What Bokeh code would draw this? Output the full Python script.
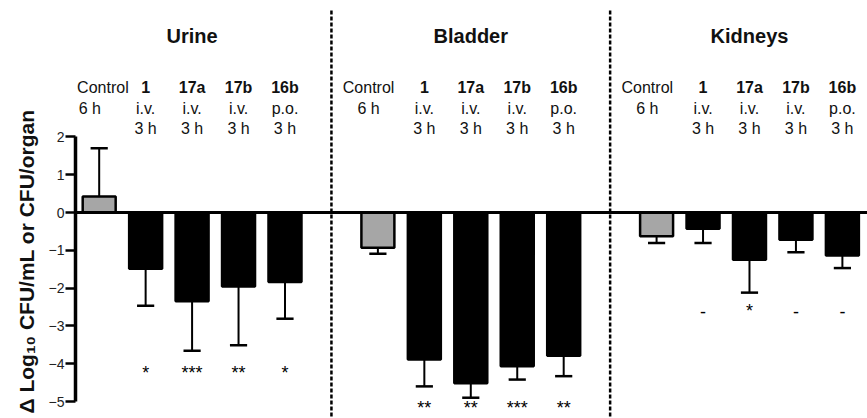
import math
from bokeh.plotting import figure
from bokeh.models import Range1d, FixedTicker, Span, ColumnDataSource, Title
from bokeh.core.properties import value
from bokeh.embed import file_html
from bokeh.resources import INLINE

# ---------------- data ----------------
groups = ["Urine", "Bladder", "Kidneys"]
treatments = ["Control", "1", "17a", "17b", "16b"]
routes = ["6 h", "i.v.", "i.v.", "i.v.", "p.o."]
times = ["", "3 h", "3 h", "3 h", "3 h"]

urine_mean = [0.42, -1.49, -2.35, -1.96, -1.84]
urine_err = [1.28, 0.98, 1.31, 1.55, 0.97]
urine_sig = ["", "*", "***", "**", "*"]

bladder_mean = [-0.93, -3.89, -4.52, -4.07, -3.79]
bladder_err = [0.16, 0.71, 0.38, 0.35, 0.54]
bladder_sig = ["", "**", "**", "***", "**"]

kidneys_mean = [-0.63, -0.43, -1.25, -0.72, -1.14]
kidneys_err = [0.18, 0.38, 0.87, 0.33, 0.33]
kidneys_sig = ["", "-", "*", "-", "-"]

y_ticks = [-5, -4, -3, -2, -1, 0, 1, 2]
y_label = "Δ Log₁₀ CFU/mL or CFU/organ"

# ---------------- layout constants ----------------
FONT = "Liberation Sans"
GROUP_STEP = 6
BAR_W = 0.71
CAP_HALF = 0.185
sig_levels = [-4.24, -5.16, -2.61]
title_y = 4.68
row_y = [3.315, 2.76, 2.23]

means_all = [urine_mean, bladder_mean, kidneys_mean]
errs_all = [urine_err, bladder_err, kidneys_err]
sigs_all = [urine_sig, bladder_sig, kidneys_sig]

W, H = 867, 418
LEFT = 75
x_lo = -0.51
px_per_x = 46.45
x_hi = x_lo + (W - LEFT) / px_per_x
zero_px = 212.0
px_per_y = 37.8
y_hi = zero_px / px_per_y
y_lo = -(H - zero_px) / px_per_y

p = figure(width=W, height=H, output_backend="svg", toolbar_location=None,
           x_range=Range1d(x_lo, x_hi), y_range=Range1d(y_lo, y_hi),
           min_border_left=LEFT, min_border_right=0, min_border_top=0, min_border_bottom=0,
           x_axis_location=None)
p.outline_line_color = None
p.xgrid.visible = False
p.ygrid.visible = False
p.background_fill_color = "white"
p.border_fill_color = "white"

yax = p.yaxis[0]
yax.ticker = FixedTicker(ticks=y_ticks)
yax.bounds = (-5, 2)
yax.axis_line_width = 3.5
yax.axis_line_color = "black"
yax.major_tick_out = 10
yax.major_tick_in = 0
yax.major_tick_line_width = 2.5
yax.major_tick_line_color = "black"
yax.minor_tick_line_color = None
yax.major_label_text_font = FONT
yax.major_label_text_font_size = "14px"
yax.major_label_text_color = "#222222"
yax.major_label_standoff = 1

p.add_layout(Title(text=y_label, align="left", offset=5, text_font=FONT,
                   text_font_size="21px", text_font_style="bold",
                   text_color="#111111", standoff=15), "left")

# bars
xs, tops, colors = [], [], []
sx0, sy0, sy1 = [], [], []
cx0, cx1, cy = [], [], []
tx, ty, tt = [], [], []
for g in range(3):
    for j in range(5):
        x = g * GROUP_STEP + j
        m = means_all[g][j]
        e = errs_all[g][j]
        xs.append(x)
        tops.append(m)
        colors.append("#a6a6a6" if j == 0 else "black")
        end = m + e if m >= 0 else m - e
        sx0.append(x); sy0.append(m); sy1.append(end)
        cx0.append(x - CAP_HALF); cx1.append(x + CAP_HALF); cy.append(end)
        if sigs_all[g][j]:
            tx.append(x); ty.append(sig_levels[g]); tt.append(sigs_all[g][j])

p.segment(x0=sx0, y0=sy0, x1=sx0, y1=sy1, line_color="black", line_width=2)
p.segment(x0=cx0, y0=cy, x1=cx1, y1=cy, line_color="black", line_width=2.5)
p.vbar(x=xs, top=tops, bottom=0, width=BAR_W, fill_color=colors,
       line_color="black", line_width=2.5)

p.add_layout(Span(location=0, dimension="width", line_color="black", line_width=3))

# dividers
for d in [GROUP_STEP - 1, 2 * GROUP_STEP - 1]:
    p.segment(x0=[d], y0=[(zero_px - 10) / px_per_y], x1=[d], y1=[y_lo], line_color="black",
              line_width=2.5, line_dash="4 2")

# significance marks
p.text(x=tx, y=ty, text=tt, text_align="center", text_baseline="middle",
       text_font=value(FONT), text_font_size="18px", text_color="black")

# headers
hx, hy, ht, hs = [], [], [], []
gx, gt = [], []
for g in range(3):
    gx.append(g * GROUP_STEP + 2)
    gt.append(groups[g])
    for j in range(5):
        x = g * GROUP_STEP + j
        for r, lab in enumerate([treatments[j], routes[j], times[j]]):
            if not lab:
                continue
            off = 0.0
            if j == 0:
                # first "Control" must stay inside the frame next to the axis
                off = 0.08 if (g == 0 and r == 0) else -0.2
            hx.append(x + off); hy.append(row_y[r]); ht.append(lab)
            hs.append("bold" if (r == 0 and j > 0) else "normal")

src = ColumnDataSource(dict(x=hx, y=hy, text=ht, style=hs))
p.text(x="x", y="y", text="text", source=src, text_font_style="style",
       text_align="center", text_baseline="middle", text_font=value(FONT),
       text_font_size="16px", text_color="#111111")
p.text(x=gx, y=[title_y] * 3, text=gt, text_align="center", text_baseline="middle",
       text_font=value(FONT), text_font_size="20px", text_font_style="bold",
       text_color="#111111")

open("out.html", "w").write(file_html(p, INLINE))
